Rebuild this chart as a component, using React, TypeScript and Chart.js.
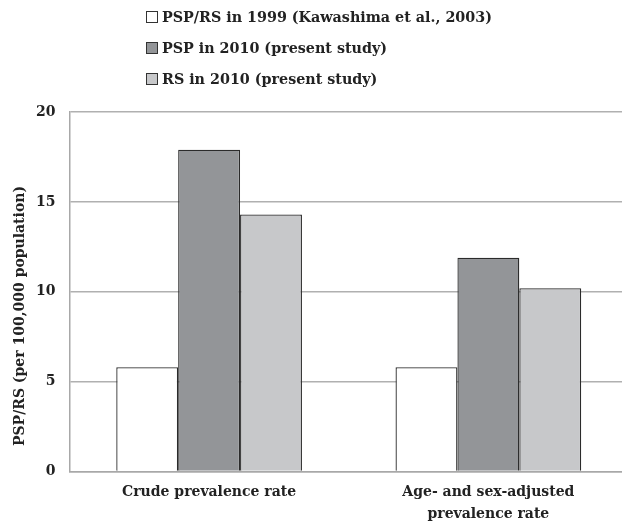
import React, { useEffect, useRef } from "react";
import { Chart, registerables } from "chart.js";

Chart.register(...registerables);

const categories: (string | string[])[] = [
  "Crude prevalence rate",
  ["Age- and sex-adjusted", "prevalence rate"],
];
const seriesNames = [
  "PSP/RS in 1999 (Kawashima et al., 2003)",
  "PSP in 2010 (present study)",
  "RS in 2010 (present study)",
];
const psprs1999 = [5.8, 5.8];
const psp2010 = [17.9, 11.9];
const rs2010 = [14.3, 10.2];
const yTicks = [0, 5, 10, 15, 20];
const yTitle = "PSP/RS (per 100,000 population)";
const colors = ["#ffffff", "#939598", "#c7c8ca"];
const FONT = "'DejaVu Serif', serif";

const yTitlePlugin = {
  id: "yTitlePlugin",
  afterDraw(chart: any) {
    const ctx = chart.ctx;
    ctx.save();
    ctx.translate(20, 316);
    ctx.rotate(-Math.PI / 2);
    ctx.font = `bold 14px ${FONT}`;
    ctx.fillStyle = "#222";
    ctx.textAlign = "center";
    ctx.textBaseline = "middle";
    ctx.fillText(yTitle, 0, 0);
    ctx.restore();
  },
};

export default function App() {
  const ref = useRef<HTMLCanvasElement | null>(null);
  useEffect(() => {
    document.body.style.margin = "0";
    const ctx = ref.current!;
    const chart = new Chart(ctx, {
      type: "bar",
      data: {
        labels: categories,
        datasets: [psprs1999, psp2010, rs2010].map((d, i) => ({
          label: seriesNames[i],
          data: d,
          backgroundColor: colors[i],
          borderColor: "#2b2b2b",
          borderWidth: 1.3,
          barPercentage: 1,
          categoryPercentage: 0.665,
        })),
      },
      options: {
        animation: false,
        responsive: false,
        maintainAspectRatio: false,
        layout: { padding: { top: 112, right: 0, left: 22, bottom: -14 } },
        plugins: { legend: { display: false }, tooltip: { enabled: false } },
        scales: {
          x: {
            grid: { display: false, drawTicks: false },
            border: { color: "#a8a8a8", width: 1.5 },
            ticks: {
              color: "#222",
              font: { family: FONT, size: 14, weight: "bold", lineHeight: 1.55 },
              padding: 10,
              maxRotation: 0,
            },
          },
          y: {
            min: 0,
            max: 20,
            afterBuildTicks: (axis: any) => {
              axis.ticks = yTicks.map((v) => ({ value: v }));
            },
            grid: { color: "#b0b0b0", lineWidth: 1.5, drawTicks: false },
            border: { color: "#a8a8a8", width: 1.5 },
            ticks: {
              color: "#222",
              font: { family: FONT, size: 14, weight: "bold" },
              padding: 14,
            },
          },
        },
      },
      plugins: [yTitlePlugin],
    });
    return () => chart.destroy();
  }, []);

  return (
    <div style={{ position: "relative", width: 622, height: 521, overflow: "hidden", background: "#fff" }}>
      <canvas ref={ref} width={628} height={521} style={{ position: "absolute", left: 0, top: 0 }} />
      <div style={{ position: "absolute", left: 146, top: 1, fontFamily: FONT, fontWeight: "bold", fontSize: 14.3, color: "#222" }}>
        {seriesNames.map((n, i) => (
          <div key={n} style={{ display: "flex", alignItems: "center", height: 31 }}>
            <span style={{ display: "inline-block", width: 10, height: 10, border: "1px solid #333", background: colors[i], marginRight: 4 }} />
            <span>{n}</span>
          </div>
        ))}
      </div>
    </div>
  );
}
